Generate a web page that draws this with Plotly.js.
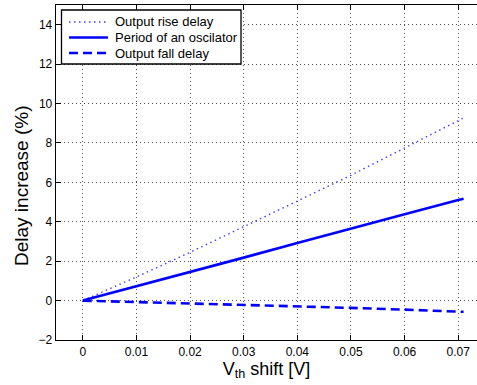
<!DOCTYPE html>
<html>
<head>
<meta charset="utf-8">
<script src="https://cdn.plot.ly/plotly-3.0.1.min.js"></script>
<style>html,body{margin:0;padding:0;background:#fff;overflow:hidden}</style>
</head>
<body>
<div id="chart" style="width:477px;height:385px"></div>
<script>
const vthShift = [0, 0.01, 0.02, 0.03, 0.04, 0.05, 0.06, 0.07, 0.071];
const riseDelay = [0, 1.2, 2.45, 3.73, 5.05, 6.36, 7.75, 9.12, 9.27];
const oscPeriod = [0, 0.72, 1.45, 2.18, 2.92, 3.66, 4.38, 5.1, 5.17];
const fallDelay = [0, -0.07, -0.13, -0.2, -0.28, -0.37, -0.46, -0.56, -0.57];
const xTicks = [0, 0.01, 0.02, 0.03, 0.04, 0.05, 0.06, 0.07];
const xTickText = ['0', '0.01', '0.02', '0.03', '0.04', '0.05', '0.06', '0.07'];
const yTicks = [-2, 0, 2, 4, 6, 8, 10, 12, 14];
const yTickText = ['\u22122', '0', '2', '4', '6', '8', '10', '12', '14'];
const seriesNames = ['Output rise delay', 'Period of an oscilator', 'Output fall delay'];

const font = 'Liberation Sans, Arial, Helvetica, sans-serif';
const lineStyles = [
  {color: '#4040ff', width: 1.4, dash: '1.5px,3.5px'},
  {color: '#0000ff', width: 2.6},
  {color: '#0000ff', width: 2.6, dash: '9px,5px'}
];
const seriesY = [riseDelay, oscPeriod, fallDelay];

const traces = seriesY.map((ys, i) => ({
  x: vthShift, y: ys, name: seriesNames[i], mode: 'lines',
  line: lineStyles[i], showlegend: false
}));

// plot area geometry in pixels (for paper-coordinate conversions)
const W = 477, H = 385, ML = 56, MR = 0, MT = 5, MB = 45;
const PW = W - ML - MR, PH = H - MT - MB;
const px = v => (v - ML) / PW;
const py = v => (H - MB - v) / PH;

const shapes = [
  {type: 'rect', xref: 'paper', yref: 'paper', x0: px(61.5), x1: px(241), y0: py(64), y1: py(10),
   line: {color: '#000', width: 1.3}, fillcolor: '#fff', layer: 'above'}
];
const annotations = [];
const rowY = [22, 37.5, 53];
seriesNames.forEach((n, i) => {
  shapes.push({type: 'line', xref: 'paper', yref: 'paper', x0: px(69), x1: px(108), y0: py(rowY[i]), y1: py(rowY[i]),
    line: lineStyles[i], layer: 'above'});
  annotations.push({xref: 'paper', yref: 'paper', x: px(113), y: py(rowY[i]), xanchor: 'left', yanchor: 'middle',
    text: n, showarrow: false, font: {family: font, size: 13, color: '#000'}});
});
annotations.push({xref: 'paper', yref: 'paper', x: px(21), y: py(186), xanchor: 'center', yanchor: 'middle',
  text: 'Delay increase (%)', textangle: -90, showarrow: false, font: {family: font, size: 19, color: '#000'}});

const axisCommon = {
  showline: true, linecolor: '#000', linewidth: 1.3,
  ticks: 'inside', ticklen: 5, tickwidth: 1, tickcolor: '#000',
  showgrid: true, gridcolor: '#555', griddash: '1px,3px', gridwidth: 1,
  zeroline: false,
  tickfont: {family: font, size: 12, color: '#000'}
};

const layout = {
  width: W, height: H,
  margin: {l: ML, r: MR, t: MT, b: MB},
  paper_bgcolor: '#fff', plot_bgcolor: '#fff',
  font: {family: font, color: '#000'},
  showlegend: false,
  shapes: shapes,
  annotations: annotations,
  xaxis: Object.assign({}, axisCommon, {
    range: [-0.005, 0.0735],
    tickvals: xTicks, ticktext: xTickText,
    mirror: 'ticks',
    title: {text: 'V<sub>th</sub> shift [V]', font: {family: font, size: 18, color: '#000'}, standoff: 4}
  }),
  yaxis: Object.assign({}, axisCommon, {
    range: [-2, 15],
    tickvals: yTicks, ticktext: yTickText,
    mirror: false
  })
};

Plotly.newPlot('chart', traces, layout, {displayModeBar: false, staticPlot: true});
</script>
</body>
</html>
